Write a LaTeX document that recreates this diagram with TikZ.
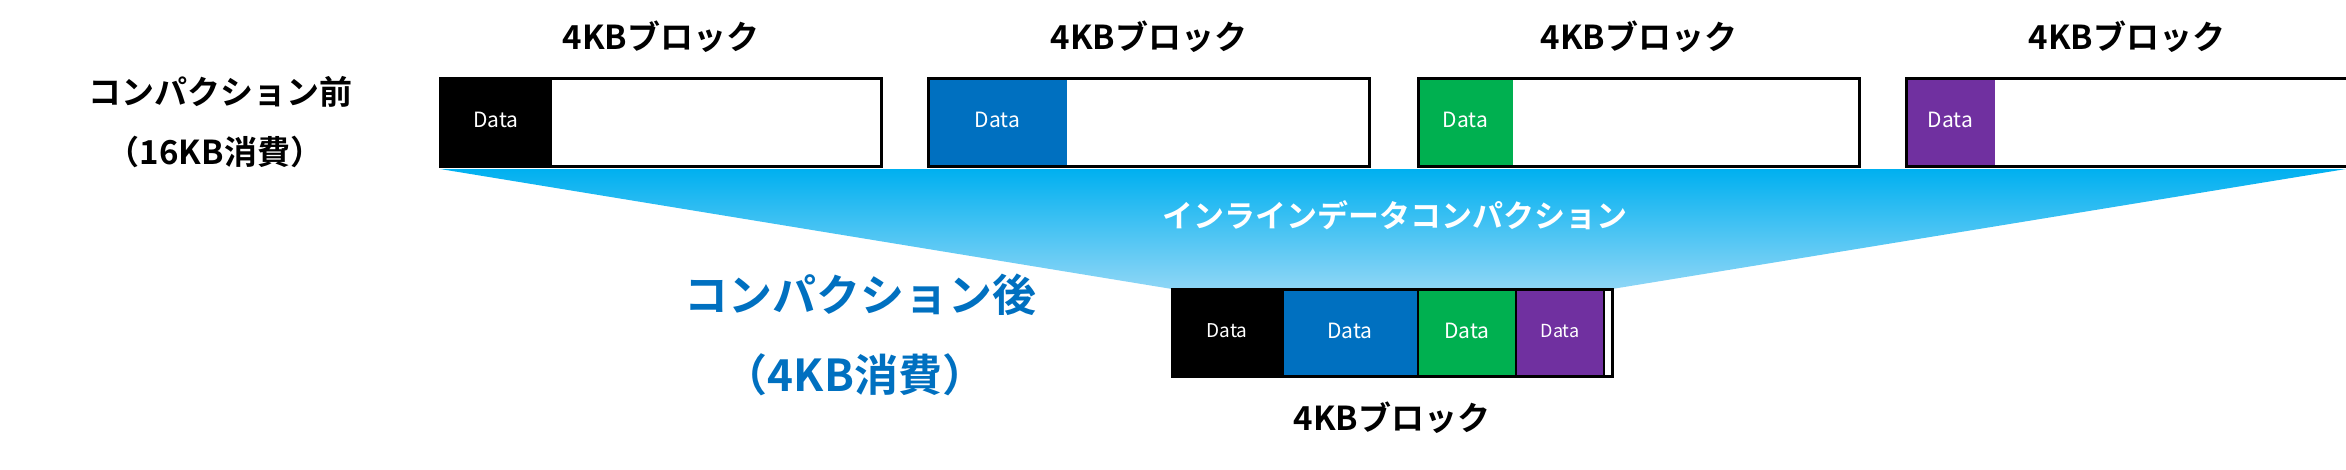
\documentclass[tikz,border=0pt]{standalone}
\usepackage{fontspec}
\setmainfont{Noto Sans CJK JP}
\newfontfamily\jpb{Noto Sans CJK JP Bold}
\definecolor{dblue}{HTML}{0070C0}
\definecolor{dgreen}{HTML}{00B050}
\definecolor{dpurple}{HTML}{7030A0}
\definecolor{tcyan}{HTML}{00B0F0}
\definecolor{bcyan}{HTML}{8ED6F6}
\begin{document}
\begin{tikzpicture}[x=1pt,y=-1pt,
  blk/.style={draw=black,line width=3pt,fill=white},
  seg/.style={draw=none},
  dat/.style={text=white,font=\fontsize{21}{24}\selectfont},
  lab/.style={font=\jpb\fontsize{33}{38}\selectfont},
  blab/.style={font=\jpb\fontsize{44}{50}\selectfont,text=dblue}]
\useasboundingbox (0,0) rectangle (2346,469);
\shade[top color=tcyan,bottom color=bcyan] (440,169) -- (2346,169) -- (1612,289) -- (1172,289) -- cycle;
\node[font=\jpb\fontsize{31}{36}\selectfont,text=white] (inl) at (1395,215) {インラインデータコンパクション};
% top blocks
\foreach \x/\w/\c/\n in {440/112/black/a,928/139/dblue/b,1418/95/dgreen/c,1906/89/dpurple/d}{
  \draw[blk] (\x,78) rectangle (\x+441,166);
  \fill[\c] (\x,78) rectangle (\x+\w,166);
  \draw[line width=3pt] (\x,78) rectangle (\x+441,166);
  \node[dat] (d\n) at (\x+\w/2,120) {Data};
  \node[lab] (l\n) at (\x+221,37) {4KBブロック};
}
% bottom block
\draw[blk] (1172,289) rectangle (1612,376);
\fill[black] (1172,289) rectangle (1283,376);
\fill[dblue] (1283,289) rectangle (1418,376);
\fill[dgreen] (1418,289) rectangle (1516,376);
\fill[dpurple] (1516,289) rectangle (1604,376);
\draw[line width=2pt] (1283,289) -- (1283,376) (1418,289) -- (1418,376) (1516,289) -- (1516,376) (1604,289) -- (1604,376);
\draw[line width=3pt] (1172,289) rectangle (1612,376);
\node[dat,font=\fontsize{19}{22}\selectfont] (e1) at (1227,331) {Data};
\node[dat] (e2) at (1350,331) {Data};
\node[dat] (e3) at (1467,331) {Data};
\node[dat,font=\fontsize{18}{22}\selectfont] (e4) at (1560,331) {Data};
\node[lab] (lb) at (1392,418) {4KBブロック};
\node[lab] (pre1) at (220,92) {コンパクション前};
\node[lab] (pre2) at (215,152) {（16KB消費）};
\node[blab] (post1) at (860,295) {コンパクション後};
\node[blab] (post2) at (855,375) {（4KB消費）};
\end{tikzpicture}
\end{document}
